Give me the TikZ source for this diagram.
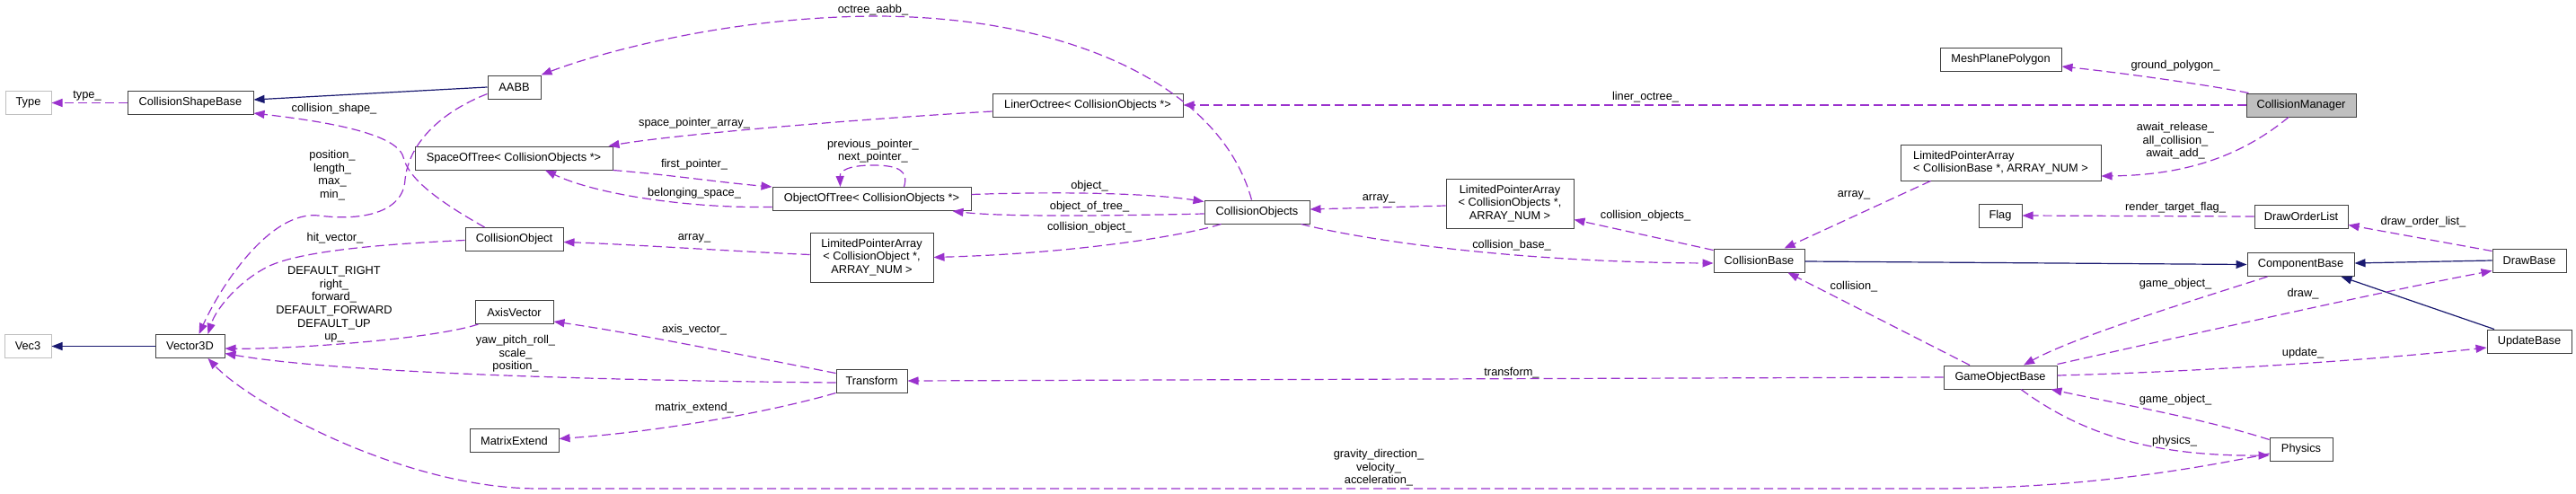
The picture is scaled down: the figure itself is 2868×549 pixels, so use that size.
\documentclass[tikz,border=0pt]{standalone}
\usepackage{fontspec}
\setmainfont{Liberation Sans}
\usetikzlibrary{arrows.meta}
\usetikzlibrary{calc}
\definecolor{orchid}{RGB}{154,50,205}
\definecolor{navy}{RGB}{25,25,112}
\definecolor{boxgray}{RGB}{191,191,191}

\begin{document}
\begin{tikzpicture}[x=1pt,y=-1pt,
		font=\fontsize{12.8}{14.6}\selectfont,
		cls/.style={draw=black!75,fill=white,line width=1pt,inner sep=0pt,minimum height=26pt,align=center},
		ucls/.style={cls,draw=boxgray},
		lbl/.style={inner sep=0pt,align=center},
		member/.style={draw=orchid,line width=1.2pt,dash pattern=on 10pt off 5pt,-{Triangle[length=12pt,width=9pt]}},
		derive/.style={draw=navy,line width=1.2pt,-{Triangle[length=12pt,width=9pt]}}]
		\useasboundingbox (0,0) rectangle (2868,549);
		\fill[white] (0,0) rectangle (2868,549);
		
		% Classes
		\foreach \name/\x/\y/\w/\txt in {
			csb/212/114.5/140/CollisionShapeBase,
			aabb/572.5/97/59/AABB,
			vector/211.5/385.5/77/Vector3D,
			sot/572/176/220/SpaceOfTree< CollisionObjects *>,
			cobj/572.5/266.5/109/CollisionObject,
			axis/572.5/347.5/87/AxisVector,
			mext/572.5/490.5/99/MatrixExtend,
			oot/970.5/221.5/221/ObjectOfTree< CollisionObjects *>,
			tform/970.5/424/79/Transform,
			lot/1211/117/212/LinerOctree< CollisionObjects *>,
			cobjs/1399.5/236/117/CollisionObjects,
			cbase/1958.5/290/101/CollisionBase,
			mesh/2227.5/66/135/MeshPlanePolygon,
			flag/2227/240/48/Flag,
			gob/2227/420/126/GameObjectBase,
			dol/2562/241/104/DrawOrderList,
			comp/2561.5/294.5/119/ComponentBase,
			phys/2562/500/70/Physics,
			drawb/2816/290/82/DrawBase,
			updb/2816/380/94/UpdateBase} {
			\node[cls,minimum width=\w pt] (\name) at (\x,\y) {\txt};
		}
		\node[ucls,minimum width=51pt] (typ) at (31.5,114.5) {Type};
		\node[ucls,minimum width=52pt] (vecthree) at (31,385.5) {Vec3};
		\node[cls,fill=boxgray,minimum width=122pt] (cman) at (2562,117) {CollisionManager};
		\node[cls,minimum width=137pt,minimum height=55pt] (lpaobj) at (970.5,286.5)
		{LimitedPointerArray\\< CollisionObject *,\\ARRAY\_NUM >};
		\node[cls,minimum width=142pt,minimum height=55pt] (lpaobjs) at (1681,226.5)
		{LimitedPointerArray\\< CollisionObjects *,\\ARRAY\_NUM >};
		\node[cls,minimum width=223pt,minimum height=40pt,align=left] (lpacb) at (2227.5,181)
		{LimitedPointerArray\\< CollisionBase *, ARRAY\_NUM >};
		
		% Inheritance
		\draw[derive] (aabb.west) -- ($(csb.east)+(0,-3.5)$);
		\draw[derive] (vector.west) -- (vecthree.east);
		\draw[derive] ($(cbase.east)+(0,1)$) -- (comp.west);
		\draw[derive] (drawb.west) -- ($(comp.east)+(0,-1.5)$);
		\draw[derive] ($(updb.north)+(-39,0)$) -- ($(comp.south)+(45,0)$);
		
		% Members
		\draw[member] (csb.west) -- (typ.east);
		\draw[member] ($(cobj.north west)+(22,0)$) .. controls (490,225) and (455,200) .. (449,175)
		.. controls (442,148) and (360,135) .. ($(csb.south east)+(0,-2)$);
		\draw[member] ($(aabb.south west)+(0,-6)$) .. controls (490,125) and (455,160) .. (451,200)
		.. controls (449,238) and (400,246) .. (355,240)
		.. controls (300,234) and (245,320) .. ($(vector.north)+(10,0)$);
		\draw[member] ($(cobj.west)+(0,1)$) .. controls (420,272) and (335,280) .. (300,296)
		.. controls (265,313) and (240,345) .. ($(vector.north)+(20,0)$);
		\draw[member] ($(axis.south west)+(4,0)$) .. controls (480,378) and (320,389) .. ($(vector.east)+(0,2.5)$);
		\draw[member] ($(tform.west)+(0,2)$) .. controls (700,424) and (380,416) .. ($(vector.east)+(0,8)$);
		\draw[member] ($(phys.west)+(0,5)$) .. controls (2420,527) and (2300,544) .. (2150,544) -- (600,544)
		.. controls (450,544) and (280,450) .. ($(vector.south)+(20,0)$);
		\draw[member] ($(cobjs.north)+(-6,0)$) .. controls (1360,100) and (1200,20) .. (980,18)
		.. controls (800,18) and (650,65) .. (aabb.north east);
		\draw[member] ($(lot.west)+(0,7)$) .. controls (950,133) and (750,150) .. ($(sot.north east)+(-5,0)$);
		\draw[member] (sot.south east) .. controls (750,195) and (800,203) .. (oot.north west);
		\draw[member] ($(oot.west)+(0,9)$) .. controls (760,232) and (660,215) .. ($(sot.south)+(35,0)$);
		\draw[member] ($(oot.north)+(36,0)$) .. controls (1012,190) and (1000,184) .. (972,184)
		.. controls (945,184) and (935,190) .. ($(oot.north)+(-35,0)$);
		\draw[member] ($(oot.east)+(0,-5)$) .. controls (1180,213) and (1280,215) .. ($(cobjs.north west)+(0,2)$);
		\draw[member] ($(cobjs.west)+(0,2)$) .. controls (1250,240) and (1120,242) .. ($(oot.south)+(90,0)$);
		\draw[member] ($(cobjs.south west)+(19,0)$) .. controls (1320,262) and (1200,282) .. (lpaobj.east);
		\draw[member] ($(lpaobj.west)+(0,-3)$) .. controls (820,280) and (700,272) .. ($(cobj.east)+(0,3)$);
		\draw[member] (cman.west) -- (lot.east);
		\draw[member] ($(lpaobjs.west)+(0,2.5)$) -- ($(cobjs.east)+(0,-3)$);
		\draw[member] ($(cobjs.south east)+(-10,0)$) .. controls (1530,270) and (1700,292) .. ($(cbase.west)+(0,3)$);
		\draw[member] ($(cbase.north west)+(0,2)$) -- ($(lpaobjs.south east)+(0,-10)$);
		\draw[member] ($(lpacb.south west)+(34,0)$) -- ($(cbase.north)+(28,0)$);
		\draw[member] ($(cman.north west)+(3,0)$) .. controls (2460,95) and (2370,82) .. ($(mesh.east)+(0,8)$);
		\draw[member] ($(cman.south)+(-14,0)$) .. controls (2500,170) and (2440,195) .. ($(lpacb.east)+(0,15)$);
		\draw[member] (dol.west) -- (flag.east);
		\draw[member] ($(drawb.north west)+(0,3)$) -- ($(dol.south east)+(0,-4)$);
		\draw[member] ($(comp.south west)+(23,0)$) .. controls (2440,335) and (2310,375) .. ($(gob.north)+(26,0)$);
		\draw[member] ($(gob.north east)+(0,-1)$) .. controls (2450,370) and (2650,325) .. ($(drawb.south west)+(0,-2)$);
		\draw[member] ($(gob.east)+(0,-2)$) .. controls (2450,414) and (2650,400) .. ($(updb.west)+(0,7)$);
		\draw[member] ($(phys.north west)+(0,3)$) .. controls (2450,465) and (2350,448) .. ($(gob.south east)+(-7,0)$);
		\draw[member] ($(gob.south)+(23,0)$) .. controls (2320,485) and (2400,508) .. ($(phys.west)+(0,7)$);
		\draw[member] ($(gob.north)+(-34,0)$) -- ($(cbase.south)+(32,0)$);
		\draw[member] (gob.west) -- (tform.east);
		\draw[member] ($(tform.north west)+(0,5)$) .. controls (800,390) and (700,370) .. ($(axis.south east)+(0,-3)$);
		\draw[member] (tform.south west) .. controls (860,458) and (740,480) .. ($(mext.east)+(0,-2)$);
		
		% Member names
		\foreach \name/\x/\y/\txt in {
			type/97/107/type\_,
			cshape/372/121/collision\_shape\_,
			aabbv/370/195/{position\_\\length\_\\max\_\\min\_},
			hit/373/265/hit\_vector\_,
			axisv/372/339/{DEFAULT\_RIGHT\\right\_\\forward\_\\DEFAULT\_FORWARD\\DEFAULT\_UP\\up\_},
			tformv/574/394/{yaw\_pitch\_roll\_\\scale\_\\position\_},
			axis/773/367/axis\_vector\_,
			mext/773/454/matrix\_extend\_,
			octaabb/972/11/octree\_aabb\_,
			spa/773/137/space\_pointer\_array\_,
			first/773/183/first\_pointer\_,
			belong/773/215/belonging\_space\_,
			arrobj/773/265/array\_,
			prevnext/972/168/{previous\_pointer\_\\next\_pointer\_},
			object/1213/207/object\_,
			oftree/1213/230/object\_of\_tree\_,
			cobject/1213/253/collision\_object\_,
			liner/1832/108/liner\_octree\_,
			arrobjs/1535/221/array\_,
			cobjects/1832/240/collision\_objects\_,
			cbase/1683/273/collision\_base\_,
			transform/1683/415/transform\_,
			gravity/1535/521/{gravity\_direction\_\\velocity\_\\acceleration\_},
			ground/2422/73/ground\_polygon\_,
			await/2422/157/{await\_release\_\\all\_collision\_\\await\_add\_},
			arrcb/2064/217/array\_,
			render/2422/231/render\_target\_flag\_,
			collision/2064/319/collision\_,
			gobjup/2422/316/game\_object\_,
			gobjlow/2422/445/game\_object\_,
			physics/2421/491/physics\_,
			dol/2698/247/draw\_order\_list\_,
			draw/2564/327/draw\_,
			update/2564/393/update\_} {
			\node[lbl] (lbl-\name) at (\x,\y) {\txt};
		}
	\end{tikzpicture}
\end{document}
